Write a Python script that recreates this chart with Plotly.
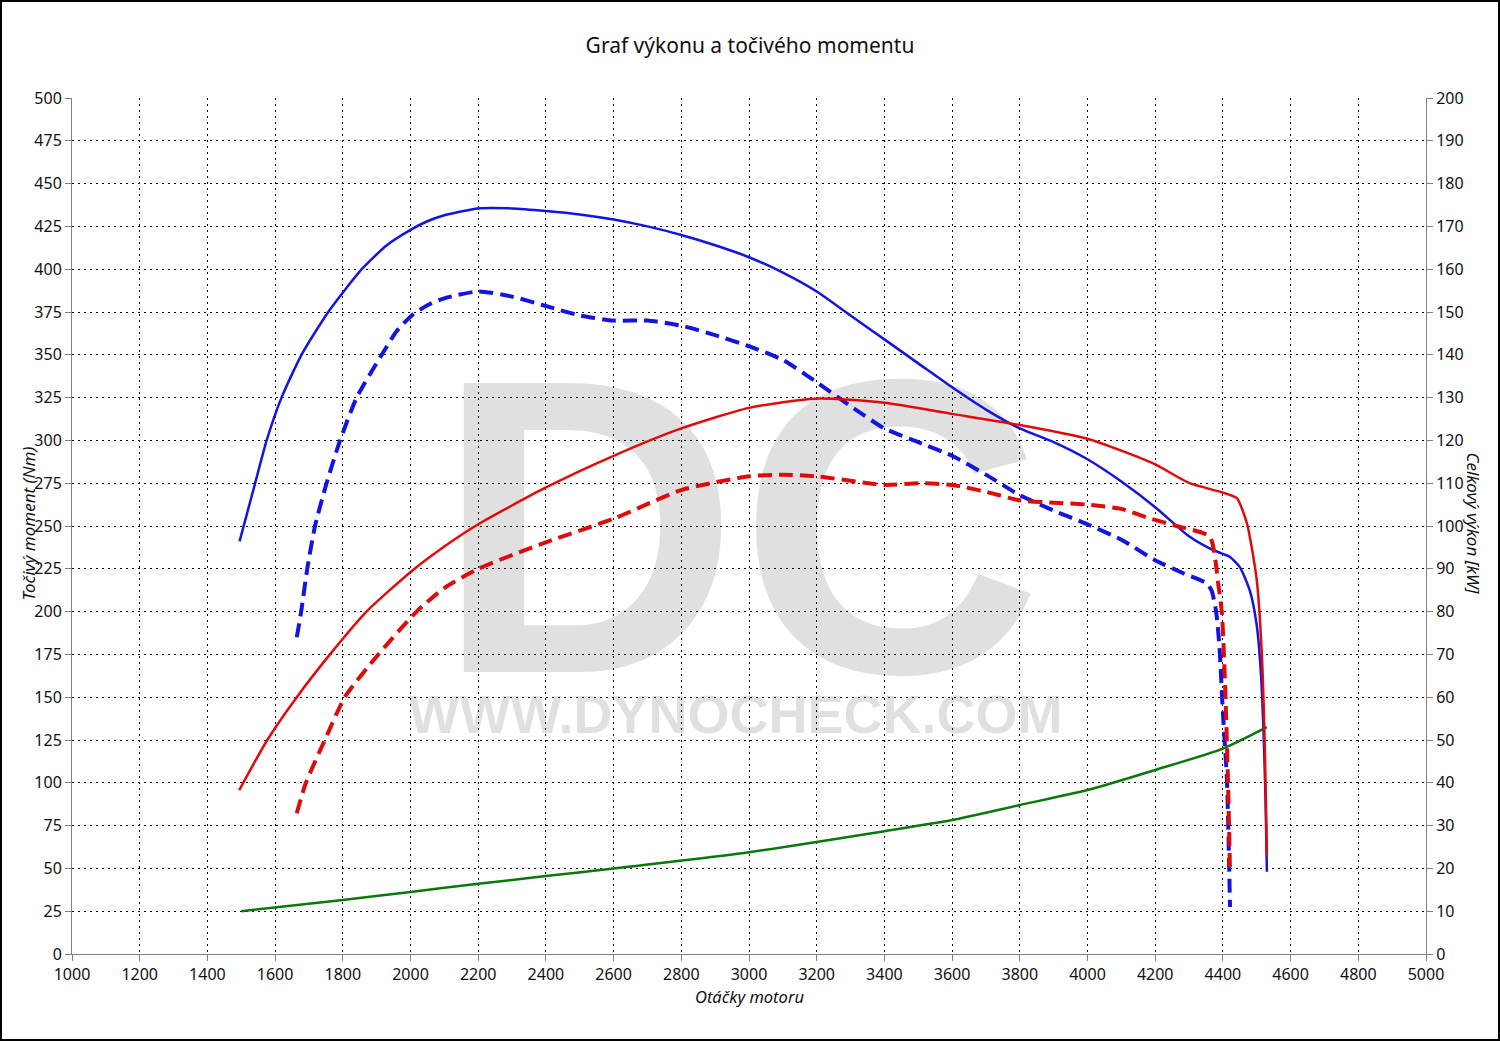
import plotly.graph_objects as go

# ---------------- data ----------------
# Torque after tuning (Nm) - blue solid
tq_tuned_rpm = [1495, 1541, 1575, 1619, 1678, 1757, 1856, 1930, 2000, 2050, 2100, 2200, 2300, 2400, 2500,
                2600, 2700, 2800, 2900, 3000, 3100, 3200, 3300, 3400, 3500, 3600, 3700, 3800, 3900,
                4000, 4100, 4200, 4300, 4370, 4420, 4450, 4480, 4500, 4512, 4520, 4526, 4530]
tq_tuned_nm = [241, 275, 300, 325, 350, 375, 400, 414, 423, 428, 431.5, 435.5, 435.5, 434, 432,
               429, 425, 420, 414, 407, 398, 387, 373, 359, 345, 331, 318, 307, 299,
               289, 276, 261, 244, 236, 232, 226, 212, 192, 165, 130, 90, 48]

# Torque stock (Nm) - blue dashed
tq_stock_rpm = [1664, 1677, 1695, 1718, 1752, 1792, 1841, 1915, 1960, 2004, 2050, 2100, 2200, 2300,
                2400, 2500, 2600, 2700, 2800, 2900, 3000, 3100, 3200, 3300, 3400, 3500, 3600, 3700,
                3800, 3900, 4000, 4100, 4200, 4283, 4352, 4367, 4380, 4390, 4400, 4412, 4421]
tq_stock_nm = [185, 200, 225, 250, 275, 300, 325, 350, 364, 373, 379, 383, 387, 384,
               378.5, 373, 370, 370, 367, 361.5, 355, 347, 334, 320, 307, 299, 291, 280,
               268, 259, 251, 242, 230, 222.4, 216.5, 212, 200, 179, 141, 101.6, 27.5]

# Power after tuning (kW) - red solid
pw_tuned_rpm = [1494, 1577, 1664, 1762, 1870, 2004, 2100, 2200, 2400, 2600, 2800, 3000, 3200,
                3400, 3600, 3800, 4000, 4100, 4200, 4302, 4400, 4441, 4471, 4500, 4515, 4524, 4530]
pw_tuned_kw = [38.3, 50, 60, 70, 80, 89.5, 95.2, 100.4, 109, 116.4, 122.8, 127.6, 129.8,
               128.8, 126.2, 123.6, 120.4, 117.6, 114.4, 110, 107.8, 106.5, 100.6, 87.4, 70, 48, 23]

# Power stock (kW) - red dashed
pw_stock_rpm = [1664, 1691, 1747, 1806, 1905, 2018, 2100, 2200, 2400, 2600, 2800, 3000, 3100, 3200, 3400,
                3500, 3600, 3700, 3800, 4000, 4100, 4183, 4263, 4361, 4386, 4397, 4406, 4415, 4421]
pw_stock_kw = [32.9, 40, 50, 60, 70, 80, 85.5, 90, 96.2, 101.7, 108.4, 111.6, 112, 111.6, 109.6,
               110, 109.6, 108, 106, 105, 104, 101.8, 100, 97.5, 86.6, 79.7, 64, 40.6, 19]

# Loss power (kW) - green
loss_rpm = [1500, 1800, 2000, 2200, 2400, 2600, 3000, 3400, 3600, 3800, 4000, 4200, 4400, 4530]
loss_kw = [10, 12.6, 14.5, 16.4, 18.2, 20, 23.8, 28.7, 31.3, 34.8, 38.3, 43, 48, 53]

x_ticks = list(range(1000, 5001, 200))
left_ticks = list(range(0, 501, 25))
right_ticks = list(range(0, 201, 10))

BLUE = "#1414e0"
RED = "#e00a0a"
GREEN = "#0a780a"
FONT = "Noto Sans, Open Sans, DejaVu Sans, sans-serif"

fig = go.Figure()

# watermark (drawn first, under curves, above grid)
fig.add_trace(go.Scatter(x=[2970], y=[226], mode="text", text=["<b>DC</b>"],
                         textfont=dict(family="Liberation Sans, Arial, sans-serif", size=420,
                                       color="rgba(0,0,0,0.12)"),
                         hoverinfo="skip", showlegend=False))
fig.add_trace(go.Scatter(x=[2960], y=[137], mode="text", text=["<b>WWW.DYNOCHECK.COM</b>"],
                         textfont=dict(family="Liberation Sans, Arial, sans-serif", size=54,
                                       color="rgba(0,0,0,0.12)"),
                         hoverinfo="skip", showlegend=False))

fig.add_trace(go.Scatter(x=loss_rpm, y=loss_kw, yaxis="y2", mode="lines",
                         line=dict(color=GREEN, width=2.5, shape="spline", smoothing=0.6), showlegend=False))
fig.add_trace(go.Scatter(x=pw_stock_rpm, y=pw_stock_kw, yaxis="y2", mode="lines",
                         line=dict(color=RED, width=4, dash="14px,7px", shape="spline", smoothing=0.6),
                         showlegend=False))
fig.add_trace(go.Scatter(x=pw_tuned_rpm, y=pw_tuned_kw, yaxis="y2", mode="lines",
                         line=dict(color=RED, width=2.5, shape="spline", smoothing=0.6), showlegend=False))
fig.add_trace(go.Scatter(x=tq_stock_rpm, y=tq_stock_nm, mode="lines",
                         line=dict(color=BLUE, width=4, dash="14px,7px", shape="spline", smoothing=0.6),
                         showlegend=False))
fig.add_trace(go.Scatter(x=tq_tuned_rpm, y=tq_tuned_nm, mode="lines",
                         line=dict(color=BLUE, width=2.5, shape="spline", smoothing=0.6), showlegend=False))

axis_common = dict(showline=True, linecolor="#808080", linewidth=1, ticks="outside", ticklen=6,
                   tickcolor="#808080", tickfont=dict(family=FONT, size=16, color="#111"),
                   zeroline=False)

fig.update_layout(
    width=1500, height=1041,
    margin=dict(l=72, r=74, t=98, b=87),
    paper_bgcolor="white", plot_bgcolor="white",
    xaxis=dict(range=[1000, 5000], tickvals=x_ticks, showgrid=True, gridcolor="black", gridwidth=1,
               griddash="2px,4px", mirror=False, **axis_common),
    yaxis=dict(range=[0, 500], tickvals=left_ticks, showgrid=True, gridcolor="black", gridwidth=1,
               griddash="2px,4px", **axis_common),
    yaxis2=dict(range=[0, 200], tickvals=right_ticks, overlaying="y", side="right", showgrid=False,
                **axis_common),
    title=dict(text="Graf výkonu a točivého momentu", x=0.5, xanchor="center", y=1 - 46 / 1041,
               yanchor="middle", font=dict(family=FONT, size=21, color="#111")),
    showlegend=False,
)

fig.add_annotation(text="<i>Otáčky motoru</i>", xref="paper", yref="paper", x=0.5, y=-42 / 856,
                   showarrow=False, xanchor="center", yanchor="middle",
                   font=dict(family=FONT, size=16.5, color="#111"))
fig.add_annotation(text="<i>Točivý moment (Nm)</i>", xref="paper", yref="paper", x=-44 / 1354, y=0.503,
                   showarrow=False, textangle=-90, xanchor="center", yanchor="middle",
                   font=dict(family=FONT, size=17, color="#111"))
fig.add_annotation(text="<i>Celkový výkon [kW]</i>", xref="paper", yref="paper", x=1402 / 1354, y=0.503,
                   showarrow=False, textangle=90, xanchor="center", yanchor="middle",
                   font=dict(family=FONT, size=17, color="#111"))

# outer black frame
fig.add_shape(type="rect", xref="paper", yref="paper",
              x0=-71 / 1354, x1=1427 / 1354, y0=-86 / 856, y1=1 + 97 / 856,
              line=dict(color="black", width=2), fillcolor="rgba(0,0,0,0)", layer="above")

fig.write_html("out.html", post_script="document.body.style.margin='0';",
               config={"displayModeBar": False})
